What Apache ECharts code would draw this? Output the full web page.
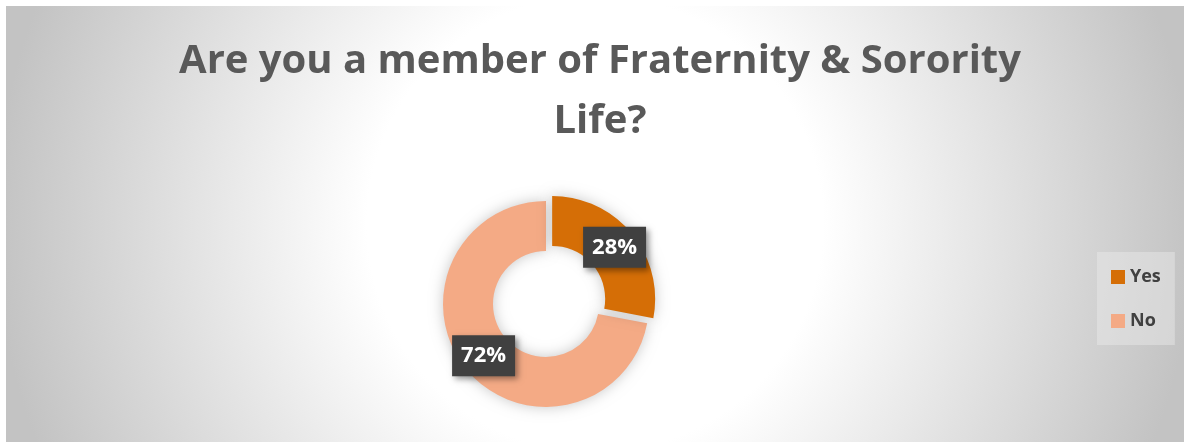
<!DOCTYPE html>
<html>
<head>
<meta charset="utf-8">
<style>
  html, body { margin: 0; padding: 0; background: #fff; }
  #main { width: 1184px; height: 442px; }
</style>
<script src="https://cdn.jsdelivr.net/npm/echarts@6/dist/echarts.min.js"></script>
</head>
<body>
<div id="main"></div>
<script>
var titleText = 'Are you a member of Fraternity & Sorority\nLife?';
var categories = ['Yes', 'No'];
var values = [28, 72];
var colors = ['#d56e06', '#f4aa85'];

var myChart = echarts.init(document.getElementById('main'));

var pieData = [];
for (var i = 0; i < categories.length; i++) {
  pieData.push({
    name: categories[i],
    value: values[i],
    selected: i === 0,
    itemStyle: { color: colors[i] }
  });
}

var opt = {
  animation: false,
  textStyle: { fontFamily: 'Open Sans' },
  graphic: [
    {
      type: 'rect',
      z: -10,
      silent: true,
      shape: { x: 6, y: 6, width: 1178, height: 436 },
      style: {
        fill: new echarts.graphic.RadialGradient(595, 224, 600, [
          { offset: 0, color: '#ffffff' },
          { offset: 0.38, color: '#ffffff' },
          { offset: 1, color: '#c3c3c3' }
        ], true)
      }
    }
  ],
  title: {
    text: titleText,
    left: 595,
    textAlign: 'center',
    top: 27,
    textStyle: {
      fontFamily: 'Open Sans',
      fontWeight: 'bold',
      fontSize: 40,
      lineHeight: 60,
      color: '#595959'
    }
  },
  legend: {
    orient: 'vertical',
    left: 1097,
    top: 252,
    padding: [16, 14, 15, 14],
    itemWidth: 14,
    itemHeight: 14,
    itemGap: 26,
    icon: 'rect',
    backgroundColor: 'rgba(235,235,235,0.45)',
    selectedMode: false,
    data: categories,
    textStyle: {
      fontFamily: 'Open Sans',
      fontWeight: 'bold',
      fontSize: 18,
      color: '#404040'
    }
  },
  series: [
    {
      type: 'pie',
      center: [546, 304],
      radius: [53, 103],
      startAngle: 90,
      clockwise: true,
      selectedMode: 'single',
      selectedOffset: 8,
      silent: true,
      itemStyle: {
        shadowBlur: 14,
        shadowColor: 'rgba(0,0,0,0.22)'
      },
      label: {
        show: true,
        position: 'inside',
        formatter: '{d}%',
        fontFamily: 'Open Sans',
        fontWeight: 'bold',
        fontSize: 22,
        color: '#ffffff',
        backgroundColor: '#404040',
        padding: [8, 9, 7, 9],
        lineHeight: 26,
        shadowBlur: 6,
        shadowOffsetX: 3,
        shadowOffsetY: 3,
        shadowColor: 'rgba(0,0,0,0.4)'
      },
      labelLine: { show: false },
      data: pieData
    }
  ]
};

myChart.setOption(opt);
</script>
</body>
</html>
